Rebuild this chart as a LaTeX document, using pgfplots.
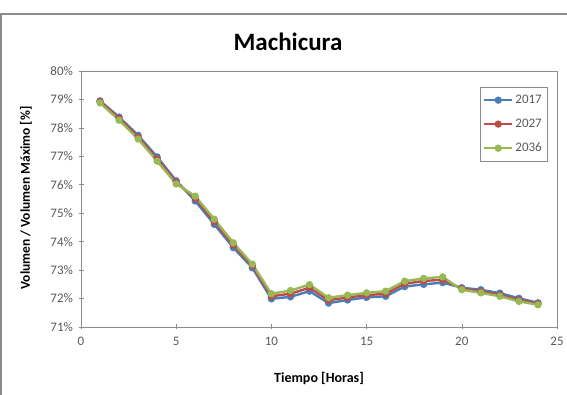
\documentclass[border=0pt]{standalone}
\usepackage{fontspec}
\setmainfont{Carlito}
\usepackage{pgfplots}
\usepackage{pgfplotstable}
\pgfplotsset{compat=1.18}

\definecolor{cA}{HTML}{4A7EBB}
\definecolor{cB}{HTML}{BE4B48}
\definecolor{cC}{HTML}{98B954}
\definecolor{frame}{HTML}{8C8C8C}
\definecolor{ticktext}{HTML}{595959}

% hora, 2017, 2027, 2036
\pgfplotstableread{
h   a      b      c
1   78.95  78.93  78.88
2   78.38  78.34  78.27
3   77.74  77.68  77.61
4   76.98  76.91  76.83
5   76.14  76.09  76.03
6   75.43  75.52  75.60
7   74.61  74.70  74.79
8   73.79  73.88  73.96
9   73.08  73.15  73.21
10  71.99  72.08  72.17
11  72.06  72.17  72.28
12  72.26  72.38  72.49
13  71.84  71.94  72.03
14  71.95  72.04  72.12
15  72.04  72.12  72.20
16  72.08  72.17  72.26
17  72.42  72.52  72.61
18  72.50  72.62  72.71
19  72.56  72.66  72.76
20  72.38  72.35  72.31
21  72.31  72.25  72.20
22  72.19  72.13  72.08
23  72.01  71.95  71.90
24  71.85  71.82  71.78
}\datos

\begin{document}
\begin{tikzpicture}[x=1pt,y=1pt]
\useasboundingbox (0,0) rectangle (567,395);
\draw[frame, line width=1.6pt] (0,381) -- (567,381);
\draw[frame, line width=1.2pt] (1,0) -- (1,381);

\begin{axis}[
    at={(81pt,68pt)}, anchor=south west,
    scale only axis,
    width=476pt, height=256pt,
    xmin=0, xmax=25, ymin=71, ymax=80,
    xtick={0,5,...,25}, ytick={71,72,...,80},
    yticklabel={\pgfmathprintnumber{\tick}\%},
    /pgf/number format/assume math mode=true,
    tick label style={font=\fontsize{13}{15}\selectfont, text=ticktext},
    axis line style={frame},
    tick style={frame, line width=0.6pt},
    tick align=center,
    major tick length=5pt,
    xtick pos=bottom, ytick pos=left,
    xticklabel style={yshift=-4pt},
    yticklabel style={xshift=-2pt},
    legend style={at={(0.979,0.9375)}, anchor=north east, draw=frame,
        font=\fontsize{13}{15}\selectfont, text=ticktext,
        row sep=10pt, inner xsep=3pt, inner ysep=6pt},
    legend cell align=left,
    legend image code/.code={
        \draw[#1] (0pt,0pt) -- (28pt,0pt);
        \draw[#1, only marks] plot coordinates {(14pt,0pt)};},
    every axis plot/.append style={line width=2.4pt, mark=*, mark size=2.4pt},
]
\addplot[cA, mark options={fill=cA}] table[x=h, y=a] {\datos};
\addlegendentry{2017}
\addplot[cB, mark options={fill=cB}] table[x=h, y=b] {\datos};
\addlegendentry{2027}
\addplot[cC, mark options={fill=cC}] table[x=h, y=c] {\datos};
\addlegendentry{2036}
\end{axis}

\node[font=\bfseries\fontsize{25}{30}\selectfont] at (288,353) {Machicura};
\node[rotate=90, font=\bfseries\fontsize{13.5}{16}\selectfont] at (26,197) {Volumen / Volumen Máximo [\%]};
\node[font=\bfseries\fontsize{14}{17}\selectfont] at (319,17) {Tiempo [Horas]};
\end{tikzpicture}
\end{document}
